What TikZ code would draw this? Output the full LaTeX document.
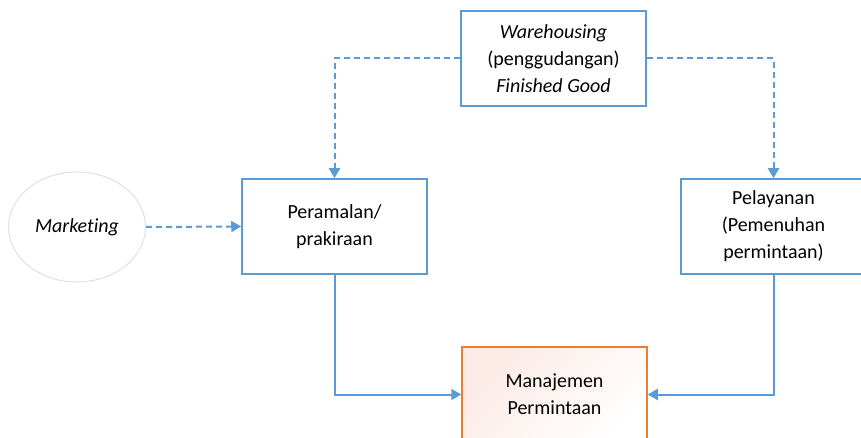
\documentclass[tikz,border=0pt]{standalone}
\usepackage{fontspec}
\setmainfont[Ligatures=NoCommon]{Carlito}
\usetikzlibrary{arrows.meta,shapes.geometric}
\definecolor{lineblue}{HTML}{5B9BD5}
\definecolor{boxorange}{HTML}{ED7D31}
\definecolor{pinkfill}{HTML}{FBEAE5}
\definecolor{ellgray}{HTML}{E0E0E0}
\begin{document}
\begin{tikzpicture}[x=1pt,y=-1pt,
  every node/.style={font=\fontsize{20}{27}\selectfont, align=center, text=black, inner sep=0pt},
  bluebox/.style={draw=lineblue, line width=1.5pt, minimum width=185pt, minimum height=95pt},
  orangebox/.style={draw=boxorange, line width=1.5pt, minimum width=185pt, minimum height=95pt,
     top color=pinkfill, bottom color=white, shading angle=45},
  ell/.style={ellipse, draw=ellgray, line width=1pt, minimum width=137pt, minimum height=110pt},
  conn/.style={draw=lineblue, line width=2pt, -{Triangle[length=10pt,width=11pt]}},
  dconn/.style={conn, dash pattern=on 6pt off 4pt}
]
\useasboundingbox (0,0) rectangle (861,438);
\begin{scope}
\clip (0,0) rectangle (861,438);
\node[bluebox] (w) at (553.5,58.5) {\textit{Warehousing}\\(penggudangan)\\\textit{Finished Good}};
\node[bluebox] (p) at (334.5,226.5) {Peramalan/\\prakiraan};
\node[bluebox] (pel) at (773.5,226.5) {Pelayanan\\(Pemenuhan\\permintaan)};
\node[orangebox] (m) at (554.5,394.5) {Manajemen\\Permintaan};
\node[ell] (mk) at (77,227) {\textit{Marketing}};
\draw[dconn] (w.west) -| (p.north);
\draw[dconn] (w.east) -| (pel.north);
\draw[dconn] (mk.east) -- (p.west);
\draw[conn] (p.south) |- (m.west);
\draw[conn] (pel.south) |- (m.east);
\end{scope}
\end{tikzpicture}
\end{document}
